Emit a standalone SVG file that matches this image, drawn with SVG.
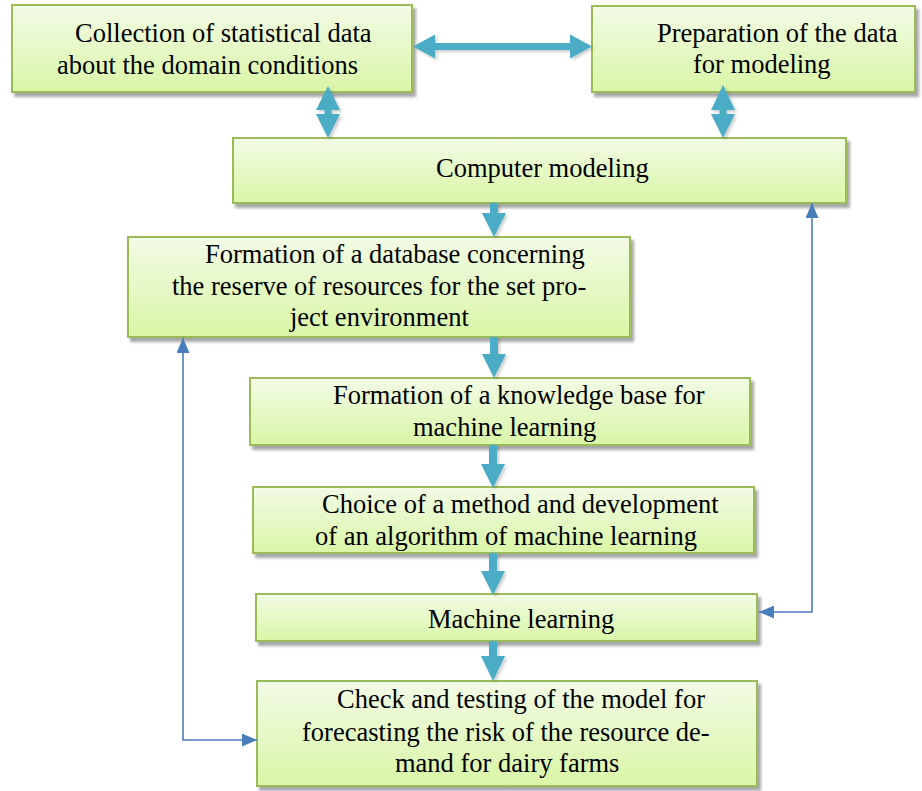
<svg xmlns="http://www.w3.org/2000/svg" width="922" height="791" viewBox="0 0 922 791">
<defs>
<linearGradient id="g" x1="0" y1="0" x2="0" y2="1">
<stop offset="0" stop-color="#f3fbe6"/>
<stop offset="1" stop-color="#d9f6a6"/>
</linearGradient>
<filter id="sh" x="-5%" y="-10%" width="115%" height="130%">
<feDropShadow dx="3" dy="4" stdDeviation="1.8" flood-color="#000" flood-opacity="0.35"/>
</filter>
<filter id="ash" x="-30%" y="-30%" width="160%" height="160%">
<feDropShadow dx="2" dy="2" stdDeviation="1.5" flood-color="#000" flood-opacity="0.2"/>
</filter>
<marker id="th" viewBox="0 0 15 13" refX="15" refY="6.5" markerWidth="15" markerHeight="13" markerUnits="userSpaceOnUse" orient="auto-start-reverse">
<path d="M0,0 L15,6.5 L0,13 z" fill="#4a7ebb"/>
</marker>
</defs>
<style>
.box{fill:url(#g);stroke:#9bbb59;stroke-width:2;filter:url(#sh)}
.t{font-family:"Liberation Serif","Times New Roman",serif;font-size:26.5px;fill:#000}
.fat{fill:#4bacc6;filter:url(#ash)}
.thin{fill:none;stroke:#4a7ebb;stroke-width:1.6;marker-start:url(#th);marker-end:url(#th)}
</style>
<rect width="922" height="791" fill="#fff"/>

<g id="n1">
<rect class="box" x="12" y="5" width="400" height="87"/>
<text class="t"><tspan x="75" y="42">Collection of statistical data</tspan><tspan x="57" y="74">about the domain conditions</tspan></text>
</g>
<g id="n2">
<rect class="box" x="592" y="6" width="323" height="86"/>
<text class="t"><tspan x="657" y="42">Preparation of the data</tspan><tspan x="693" y="73">for modeling</tspan></text>
</g>
<g id="n3">
<rect class="box" x="233" y="138" width="613" height="65"/>
<text class="t" x="436" y="177">Computer modeling</text>
</g>
<g id="n4">
<rect class="box" x="128" y="237" width="502" height="100"/>
<text class="t"><tspan x="205" y="263">Formation of a database concerning</tspan><tspan x="172" y="295">the reserve of resources for the set pro-</tspan><tspan x="290" y="326">ject environment</tspan></text>
</g>
<g id="n5">
<rect class="box" x="250" y="378" width="500" height="67"/>
<text class="t"><tspan x="333" y="404">Formation of a knowledge base for</tspan><tspan x="413" y="436">machine learning</tspan></text>
</g>
<g id="n6">
<rect class="box" x="253" y="487" width="501" height="66"/>
<text class="t"><tspan x="322" y="513">Choice of a method and development</tspan><tspan x="315" y="545">of an algorithm of machine learning</tspan></text>
</g>
<g id="n7">
<rect class="box" x="256" y="594" width="501" height="47"/>
<text class="t" x="428" y="628">Machine learning</text>
</g>
<g id="n8">
<rect class="box" x="257" y="681" width="500" height="105"/>
<text class="t"><tspan x="337" y="708">Check and testing of the model for</tspan><tspan x="302" y="741">forecasting the risk of the resource de-</tspan><tspan x="395" y="772">mand for dairy farms</tspan></text>
</g>

<g id="connectors">
<polygon class="fat" points="413,46.5 435,34.5 435,43 570,43 570,34.5 592,46.5 570,58.5 570,50 435,50 435,58.5"/>
<polygon class="fat" points="328,86 340,110 331.5,110 331.5,114 340,114 328,138 316,114 324.5,114 324.5,110 316,110"/>
<polygon class="fat" points="723,85 735,110 726.5,110 726.5,114 735,114 723,138 711,114 719.5,114 719.5,110 711,110"/>
<polygon class="fat" points="490,203 498,203 498,213 506,213 494,237 482,213 490,213"/>
<polygon class="fat" points="490,337 498,337 498,354 506,354 494,378 482,354 490,354"/>
<polygon class="fat" points="489,445 497,445 497,464 505,464 493,488 481,464 489,464"/>
<polygon class="fat" points="489,553 497,553 497,571 505,571 493,595 481,571 489,571"/>
<polygon class="fat" points="489,641 497,641 497,656 505,656 493,681 481,656 489,656"/>
<path class="thin" d="M759,612 L812,612 L812,203"/>
<path class="thin" d="M183,338 L183,740 L257,740"/>
</g>
</svg>
